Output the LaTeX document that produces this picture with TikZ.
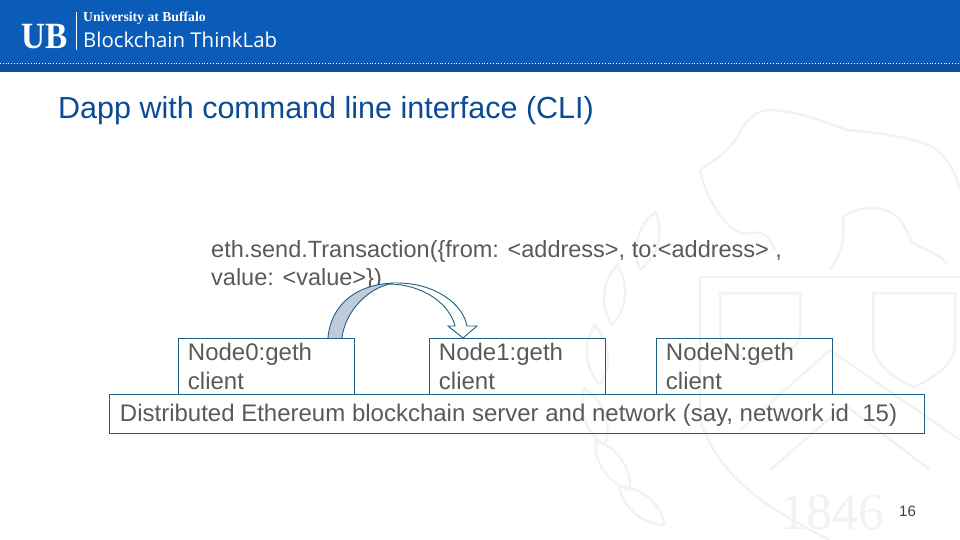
\documentclass[tikz,border=0pt]{standalone}
\usepackage{fontspec}
\setmainfont{Liberation Sans}
\newfontfamily\crestfont{Liberation Serif}
\newfontfamily\labfont{Open Sans}
\usetikzlibrary{calc}
\definecolor{ubblue}{HTML}{0A5CB8}
\definecolor{ubdark}{HTML}{0B4F9E}
\definecolor{titleblue}{HTML}{0B4A94}
\definecolor{boxline}{HTML}{1F5F85}
\definecolor{bodygray}{HTML}{595959}
\definecolor{crestgray}{HTML}{F2F2F2}
\definecolor{arrowfill}{HTML}{BFCBDB}
\tikzset{
  clientbox/.style={draw=boxline, line width=0.9pt, anchor=north west, minimum width=176pt, minimum height=56pt,
    inner xsep=10pt, inner ysep=0pt, text width=156pt, align=left, text=bodygray,
    font=\fontsize{24}{29}\selectfont},
  bodytext/.style={anchor=north west, inner sep=0pt, text=bodygray, align=left, font=\fontsize{23.5}{28}\selectfont},
  crest/.style={draw=crestgray, line width=2.5pt},
}
\begin{document}
\begin{tikzpicture}[x=1pt, y=-1pt]

  \useasboundingbox (0,0) rectangle (960,540);

  % header band
  \fill[ubblue] (0,0) rectangle (960,64);
  \fill[ubdark] (0,64) rectangle (960,72);
  \draw[white, line width=0.8pt, dotted] (0,63) -- (960,63);
  \draw[white, line width=1pt] (76,12) -- (76,50);
  \node (ublogo) at (44.5,37) [text=white, xscale=0.9, font=\crestfont\bfseries\fontsize{37}{37}\selectfont, inner sep=0pt] {UB};
  \node (ubname) at (83,18) [anchor=west, text=white, inner sep=0pt, font=\crestfont\bfseries\fontsize{13.7}{14}\selectfont] {University at Buffalo};
  \node (ublab) at (83,40) [anchor=west, text=white, inner sep=0pt, font=\labfont\fontsize{20.4}{22}\selectfont] {Blockchain ThinkLab};

  % crest behind the slide
  \draw[crest] (700,277) -- (960,277);
  \draw[crest] (700,277) -- (700,420) .. controls (720,480) and (770,510) .. (830,540);
  \draw[crest] (720,293) -- (800,293) -- (800,335) .. controls (800,350) and (775,358) .. (760,362) .. controls (745,358) and (720,350) .. (720,335) -- cycle;
  \draw[crest] (873,293) -- (955,293) -- (955,345) .. controls (955,365) and (930,380) .. (914,387) .. controls (898,380) and (873,365) .. (873,345) -- cycle;
  \draw[crest] (830,350) -- (960,440);
  \draw[crest] (830,350) -- (740,430);
  \draw[crest] (770,470) -- (845,405) -- (930,470);
  % bison
  \draw[crest] (700,170) .. controls (715,160) and (730,150) .. (740,133) .. controls (745,120) and (755,112) .. (767,110)
    .. controls (795,110) and (825,122) .. (847,130) .. controls (885,133) and (920,140) .. (933,147) .. controls (945,155) and (955,170) .. (960,190);
  \draw[crest] (700,170) .. controls (705,195) and (722,225) .. (740,233) .. controls (755,235) and (765,225) .. (775,250);
  \draw[crest] (830,270) .. controls (840,255) and (845,245) .. (843,217) .. controls (860,205) and (885,205) .. (897,217)
    .. controls (905,225) and (908,235) .. (913,243) .. controls (925,250) and (940,255) .. (947,263);
  % laurel
  \foreach \lx/\ly/\la in {640/270/75, 612/325/85, 600/385/95, 605/445/110, 630/490/125, 665/525/140}{
    \draw[crest, rotate around={\la:(\lx,\ly)}] (\lx,\ly) .. controls (\lx+18,\ly-14) and (\lx+42,\ly-14) .. (\lx+60,\ly) .. controls (\lx+42,\ly+14) and (\lx+18,\ly+14) .. (\lx,\ly);
  }
  \node (crestyear) at (832,512) [text=crestgray, inner sep=0pt, font=\crestfont\fontsize{52}{52}\selectfont] {1846};

  % slide text
  \node (slidetitle) at (58,119) [anchor=base west, inner sep=0pt, text=titleblue, font=\fontsize{30.5}{32}\selectfont] {Dapp with command line interface (CLI)};
  \node (txcall) at (211,240) [bodytext] {eth.send.Transaction(\{from: <address>, to:<address> ,\\value: <value>\})};

  % clients and network
  \node (node0) at (177.5,337.5) [clientbox] {Node0:geth\\client};
  \node (node1) at (428.5,337.5) [clientbox] {Node1:geth\\client};
  \node (nodeN) at (655.5,337.5) [clientbox] {NodeN:geth\\client};
  \node (network) at (108.5,393.5) [draw=boxline, line width=0.9pt, anchor=north west, minimum width=815pt, minimum height=39.5pt,
    inner xsep=11pt, inner ysep=0pt, text width=793pt, align=flush left, text height=20pt, text depth=4pt, text=bodygray,
    font=\fontsize{24}{29}\selectfont] {Distributed Ethereum blockchain server and network (say, network id \ 15)};

  % curved block arrow from node0 to node1
  \coordinate (archbase) at ($(node0.north east)+(-26.5,1)$);
  \coordinate (archinner) at ($(node0.north east)+(-12.5,1)$);
  \coordinate (archtop) at (397,283);
  \coordinate (archtip) at ($(node1.north west)+(34.5,0.5)$);
  \fill[arrowfill] (archbase) .. controls +(3,-36) and +(-38,0) .. (archtop)
    .. controls +(-25,1) and +(3,-29) .. (archinner) -- cycle;
  \draw[boxline, line width=0.9pt] (archinner) -- (archbase) .. controls +(3,-36) and +(-38,0) .. (archtop)
    .. controls +(-25,1) and +(3,-29) .. (archinner);
  \draw[boxline, line width=0.9pt, fill=white] (archtop) .. controls +(38,0) and +(-4,-22) .. ($(archtip)+(4,-12)$)
    -- ($(archtip)+(14,-12)$) -- (archtip) -- ($(archtip)+(-15,-12)$) -- ($(archtip)+(-8,-12)$)
    .. controls +(-5,-21) and +(35,1) .. ($(archtop)+(-7,1)$);

  \node (pagenum) at (907.5,511) [inner sep=0pt, text=black!75, font=\fontsize{15}{15}\selectfont] {16};

\end{tikzpicture}
\end{document}
